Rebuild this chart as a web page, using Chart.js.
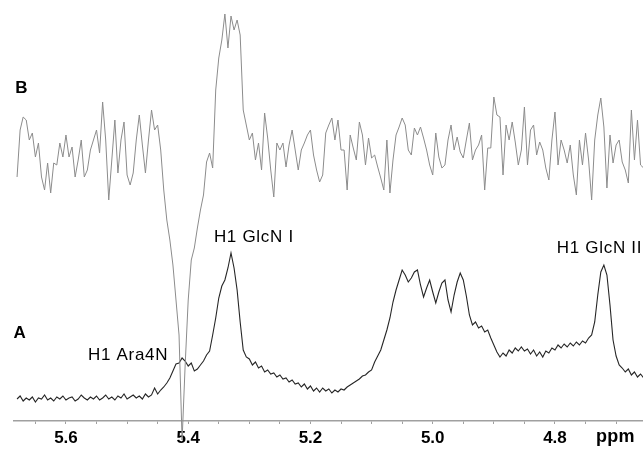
<!DOCTYPE html>
<html>
<head>
<meta charset="utf-8">
<script src="https://cdn.jsdelivr.net/npm/chart.js@4/dist/chart.umd.min.js"></script>
<style>html,body{margin:0;padding:0;background:#fff;overflow:hidden}</style>
</head>
<body>
<canvas id="c" width="643" height="449"></canvas>
<script>
const ppmStart = 5.68;
const ppmStep = 0.005;

// Spectrum A (1D 1H), intensity
const spectrumA = [
  22,25,20,23,21,24,19,23,22,26, 21,23,20,24,22,25,21,23,24,20,
  22,26,23,21,24,22,25,21,23,26, 22,24,21,25,23,27,22,24,26,23,
  25,22,27,24,26,
  33,27,31,34,38,43,50,57,58,63,
  60,55,58,50,52,56,60,66,70,86,
  103,123,135,141,153,168,153,131,99,71,
  64,62,56,59,53,55,49,51,47,48,
  44,46,42,43,39,41,37,38,34,37,
  32,35,30,33,29,33,30,32,28,31,
  29,32,31,34,36,38,40,42,45,46,
  49,51,59,65,71,81,91,103,119,131,
  141,151,146,139,143,149,151,136,124,133,
  141,129,118,129,138,141,121,109,126,139,
  148,141,125,106,96,99,93,95,89,91,
  83,76,69,64,68,65,71,68,73,70,
  74,70,72,67,71,65,69,64,70,68,
  73,71,76,73,77,74,78,75,79,76,
  80,78,83,86,99,126,149,156,146,116,
  81,65,56,53,49,52,46,49,44,47,43
];

// Spectrum B (difference trace), intensity
const spectrumB = [
  244,291,304,301,281,288,264,278,244,231,
  258,228,258,256,278,264,286,264,274,244,
  261,281,244,251,271,281,291,268,319,281,
  221,261,301,248,281,299,246,236,248,281,
  306,276,248,281,311,291,296,271,231,201,
  181,156,121,86,-19,56,121,161,173,193,
  211,226,259,268,253,331,363,381,407,373,
  405,391,401,386,311,296,281,288,261,278,
  251,308,283,251,224,278,271,278,254,276,
  291,271,251,271,278,286,291,266,251,239,
  246,288,296,303,281,301,271,271,231,286,
  273,261,299,286,256,283,263,266,254,243,
  231,281,228,261,286,294,303,296,271,266,
  293,286,294,283,271,256,246,288,264,253,
  256,281,296,271,284,269,263,281,298,261,
  271,276,286,231,273,273,324,306,304,246,
  296,281,299,279,256,271,314,256,291,296,
  266,279,271,253,241,281,309,256,281,271,
  258,276,246,226,281,256,288,261,221,281,
  306,323,294,233,286,258,276,281,259,251,
  238,311,261,301,256,253
];

const majorTicks = [5.6, 5.4, 5.2, 5.0, 4.8];
const minorTicks = [5.65, 5.55, 5.5, 5.45, 5.35, 5.3, 5.25, 5.15, 5.1, 5.05, 4.95, 4.9, 4.85, 4.75, 4.7];
const axisTitle = 'ppm';
const labelTexts = ['B', 'A', 'H1 Ara4N', 'H1 GlcN I', 'H1 GlcN II'];

const toPoints = arr => arr.map((v, i) => ({ x: +(ppmStart - i * ppmStep).toFixed(4), y: v }));

// label anchors in data coordinates (ppm, intensity)
const labelAnchors = [
  { ppm: 5.683, val: 328, bold: true },
  { ppm: 5.686, val: 83, bold: true },
  { ppm: 5.564, val: 61, bold: false },
  { ppm: 5.358, val: 179, bold: false },
  { ppm: 4.797, val: 168, bold: false }
];

const FONT = '"Liberation Sans", Arial, Helvetica, sans-serif';

const labelPlugin = {
  id: 'labels',
  afterDraw(chart) {
    const ctx = chart.ctx, xs = chart.scales.x, ys = chart.scales.y;
    ctx.save();
    ctx.fillStyle = '#000';
    ctx.textAlign = 'left';
    ctx.textBaseline = 'alphabetic';
    labelTexts.forEach((t, k) => {
      const a = labelAnchors[k];
      ctx.font = (a.bold ? 'bold 17px ' : '17px ') + FONT;
      ctx.letterSpacing = a.bold ? '0px' : '0.7px';
      ctx.fillText(t, xs.getPixelForValue(a.ppm), ys.getPixelForValue(a.val));
    });
    ctx.letterSpacing = '0.3px';
    ctx.font = 'bold 18px ' + FONT;
    ctx.fillText(axisTitle, xs.getPixelForValue(4.733), xs.top + 21);
    ctx.restore();
  }
};

const allTicks = majorTicks.concat(minorTicks);

new Chart(document.getElementById('c'), {
  type: 'line',
  data: {
    datasets: [
      {
        label: 'B',
        data: toPoints(spectrumB),
        borderColor: '#8c8c8c',
        borderWidth: 1,
        pointRadius: 0,
        tension: 0,
        clip: false
      },
      {
        label: 'A',
        data: toPoints(spectrumA),
        borderColor: '#262626',
        borderWidth: 1.1,
        pointRadius: 0,
        tension: 0
      }
    ]
  },
  options: {
    responsive: false,
    animation: false,
    devicePixelRatio: 1,
    layout: { padding: { left: 14, right: 0, top: 0, bottom: 0 } },
    plugins: { legend: { display: false }, tooltip: { enabled: false } },
    scales: {
      x: {
        type: 'linear',
        reverse: true,
        min: 4.656,
        max: 5.685,
        border: { display: true, color: '#a0a0a0', width: 1.5 },
        grid: { drawOnChartArea: false, drawTicks: true, tickLength: 3, color: '#a0a0a0' },
        afterBuildTicks: s => { s.ticks = allTicks.map(v => ({ value: v })); },
        afterFit: s => { s.height = 28; },
        ticks: {
          autoSkip: false,
          maxRotation: 0,
          padding: 4,
          color: '#000',
          font: { family: FONT, size: 17, weight: 'bold' },
          callback: v => majorTicks.some(m => Math.abs(m - v) < 1e-6) ? v.toFixed(1) : ''
        }
      },
      y: {
        display: false,
        min: 0,
        max: 421
      }
    }
  },
  plugins: [labelPlugin]
});
</script>
</body>
</html>
